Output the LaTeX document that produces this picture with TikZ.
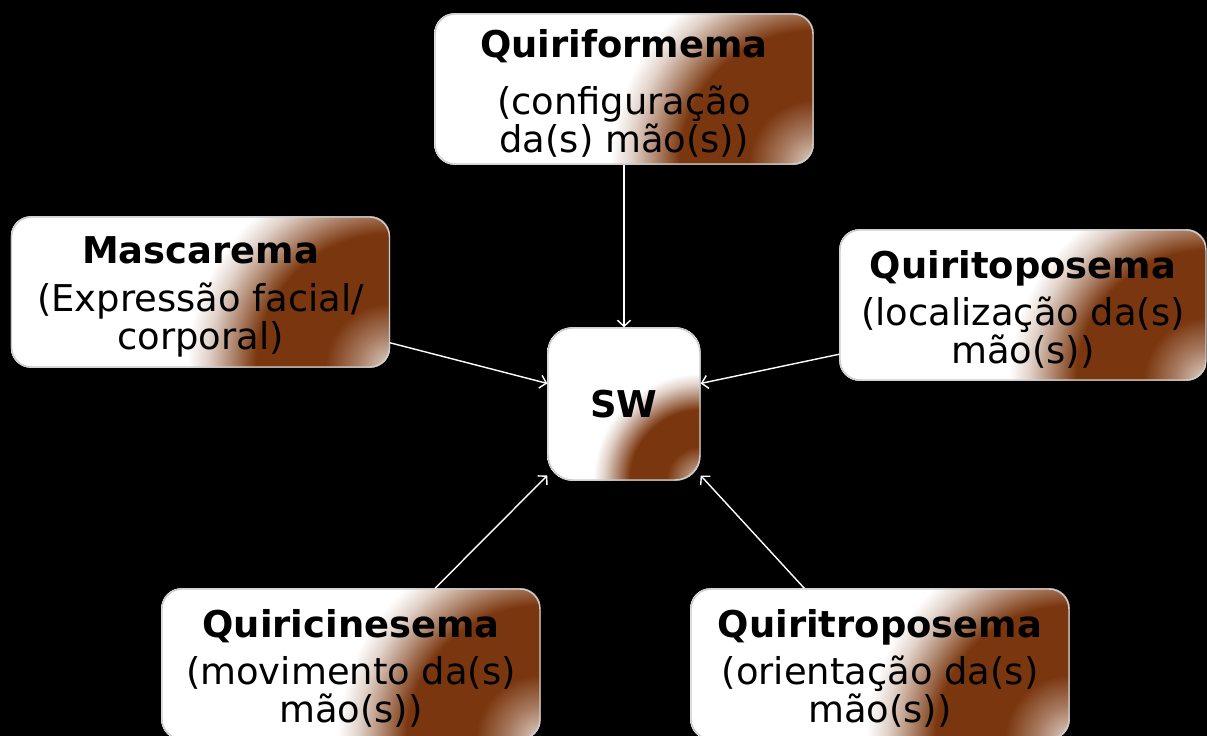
\documentclass[tikz,border=0pt]{standalone}
\usepackage{fontspec}
\setmainfont{DejaVu Sans}
\usetikzlibrary{arrows.meta,backgrounds}
\definecolor{swbrown}{RGB}{122,54,14}
\pgfdeclareradialshading{cornerfade}{\pgfpointorigin}{color(0bp)=(swbrown!22!white); color(2bp)=(swbrown!65!white); color(4bp)=(swbrown); color(8.25bp)=(swbrown); color(9.75bp)=(swbrown!60!white); color(11.25bp)=(swbrown!22!white); color(12.5bp)=(white); color(50bp)=(white)}
\def\fadebox(#1)(#2:#3){\begin{scope}\clip[rounded corners=#2] (#1.south west) rectangle (#1.north east); \fill[white] (#1.south west) rectangle (#1.north east); \shade[shading=cornerfade] (#1.south east) circle (#3);\end{scope}}
\newcommand{\concepthead}[1]{\rule{0pt}{21pt}\textbf{#1}}
\tikzset{
	concept/.style={rectangle, rounded corners=0.4cm, draw=white!80!black, line width=0.8pt, minimum width=7.56cm, minimum height=3cm, inner sep=0pt, align=center, font=\fontsize{21}{21.8}\selectfont},
	hub/.style={rectangle, rounded corners=0.5cm, draw=white!80!black, line width=0.8pt, minimum size=3.04cm, inner sep=0pt, font=\bfseries\fontsize{21}{21.8}\selectfont},
	link/.style={draw=white, line width=0.8pt, -{Straight Barb[length=3.5pt,width=7.5pt]}}
}

\begin{document}
\begin{tikzpicture}[x=0.02cm, y=-0.02cm]
		%%%%% START %%%%%
		
		\useasboundingbox (0, 0) rectangle (1207, 736);
		
		\node[hub] (sw) at (624, 404) {SW};
		
		\node[concept] (quf) at (624, 89) {\concepthead{Quiriformema}\\[11pt](configuração\\da(s) mão(s))};
		\node[concept] (masc) at (200.5, 292) {\concepthead{Mascarema}\\[5pt](Expressão facial/\\corporal)};
		\node[concept, minimum width=7.32cm] (qtopo) at (1023, 305) {\concepthead{Quiritoposema}\\[5pt](localização da(s)\\mão(s))};
		\node[concept] (qcine) at (351, 664) {\concepthead{Quiricinesema}\\[5pt](movimento da(s)\\mão(s))};
		\node[concept] (qtropo) at (880, 664) {\concepthead{Quiritroposema}\\[5pt](orientação da(s)\\mão(s))};
		
		\begin{scope}[on background layer]
			\fill[black] (0, 0) rectangle (1207, 736);
			\fadebox(sw)(0.5cm:4.3cm)
			\fadebox(quf)(0.4cm:8.13cm)
			\fadebox(masc)(0.4cm:8.13cm)
			\fadebox(qtopo)(0.4cm:7.91cm)
			\fadebox(qcine)(0.4cm:8.13cm)
			\fadebox(qtropo)(0.4cm:8.13cm)
		\end{scope}
		
		\draw[link] (quf.south) -- (sw.north);
		\draw[link] (masc.-15) -- (sw.165);
		\draw[link] (qtopo.-165.6) -- (sw.15);
		\draw[link] (qcine.42.8) -- (sw.-137);
		\draw[link] (qtropo.135) -- (sw.-43);
		
		%%%%% END %%%%%
	\end{tikzpicture}
\end{document}
